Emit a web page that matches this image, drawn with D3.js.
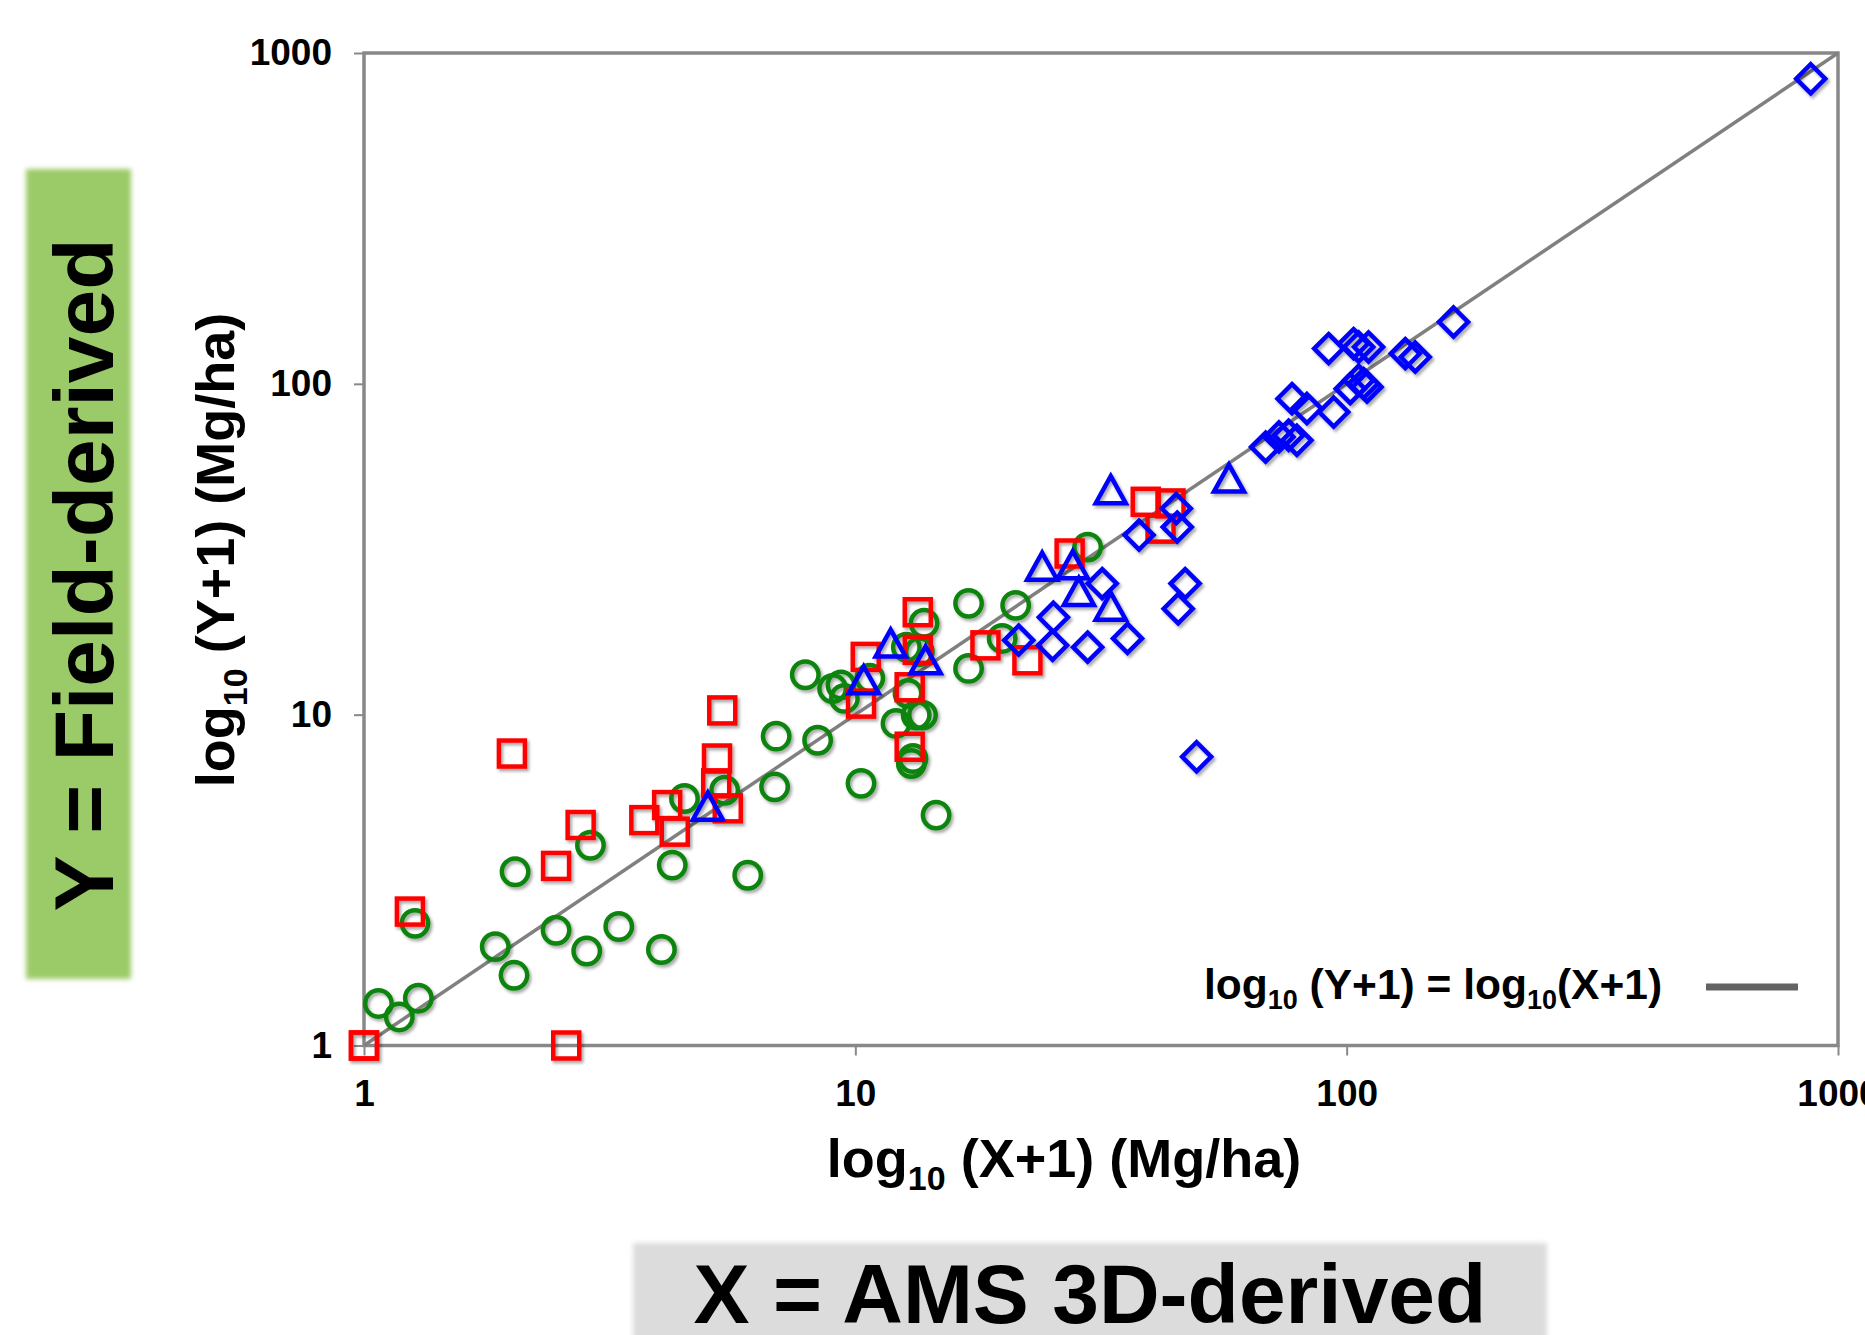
<!DOCTYPE html>
<html><head><meta charset="utf-8">
<script src="https://cdn.jsdelivr.net/npm/d3@7"></script>
<style>
html,body{margin:0;padding:0;background:#fff;}
svg{display:block;}
text{font-family:"Liberation Sans",Arial,Helvetica,sans-serif;font-weight:bold;fill:#000;}
</style>
</head><body>
<svg id="c" width="1865" height="1335"></svg>
<script>
// ---- data ----
const tickValues = [1, 10, 100, 1000];
const tickLabels = ["1", "10", "100", "1000"];
const oneToOne = [1, 1000];

// green circles [X, Y]
const circlesData = [
  [1.07,1.34],[1.18,1.22],[1.29,1.39],[1.27,2.34],[1.85,1.99],[2.02,1.63],[2.03,3.35],
  [2.46,2.23],[2.84,1.93],[3.30,2.29],[2.89,4.03],[4.03,1.95],[4.24,3.51],[4.49,5.58],
  [6.04,3.27],[5.42,5.91],[6.85,6.05],[6.90,8.61],[8.38,8.37],[7.91,13.2],[8.99,12.0],
  [9.35,12.3],[9.5,11.2],[10.27,6.2],[10.7,12.9],[12.1,9.41],[12.8,11.6],[13.3,9.97],
  [13.7,9.97],[13.0,7.12],[13.1,7.37],[14.6,4.97],[13.8,18.9],[17.0,21.7],[17.0,13.8],
  [21.2,21.4],[19.9,17.0],[12.7,16.0],[29.7,32.1],[13.5,15.5]
];
// red squares [X, Y]
const squaresData = [
  [1,1],[1,1],[1.24,2.54],[2.0,7.63],[2.46,3.49],[2.76,4.64],[2.58,1.0],[3.72,4.80],
  [4.14,5.33],[4.29,4.43],[5.23,7.37],[5.21,6.20],[5.50,5.21],[5.36,10.3],[10.5,14.95],
  [10.27,10.8],[13.4,20.4],[13.4,15.7],[12.9,12.1],[12.9,8.0],[18.4,16.2],[22.4,14.6],
  [27.3,30.7],[39.0,44.0],[43.8,43.5],[41.8,36.5]
];
// blue triangles [X, Y]
const trianglesData = [
  [5.01,5.27],[10.4,12.7],[11.8,16.4],[13.9,14.6],[24.0,28.0],[27.7,28.3],[28.5,23.5],
  [33.1,21.2],[33.1,47.7],[57.6,51.7]
];
// blue diamonds [X, Y]
const diamondsData = [
  [21.5,16.8],[25.3,19.7],[25.2,16.2],[29.7,16.0],[31.8,24.9],[35.8,17.0],[37.8,34.9],
  [45.0,42.0],[45.2,36.9],[46.9,24.9],[45.4,20.9],[49.5,7.46],[68.4,64.4],[72.8,69.1],
  [76.2,69.9],[79.2,67.5],[77.4,90.2],[83.0,84.2],[94.1,82.2],[91.9,127.8],[103.3,132.3],
  [105.8,129.2],[110.8,129.2],[101.7,96.7],[105.8,102.5],[108.3,100.1],[110.0,97.8],
  [131.6,123.4],[137.9,120.5],[165,153.8],[880,836]
];

// ---- layout ----
const svg = d3.select("#c");
const L = 364, R = 1838, T = 53, B = 1045.5;
const x = d3.scaleLog().domain([1, 1000]).range([L, R]);
const y = d3.scaleLog().domain([1, 1000]).range([B, T]);
const font = '"Liberation Sans",Arial,Helvetica,sans-serif';

const defs = svg.append("defs");
const sh = defs.append("filter").attr("id","sh").attr("x","-30%").attr("y","-30%").attr("width","160%").attr("height","160%");
sh.append("feDropShadow").attr("dx",2).attr("dy",2.5).attr("stdDeviation",1.6)
  .attr("flood-color","#000").attr("flood-opacity",0.35);
const bx = defs.append("filter").attr("id","bx").attr("x","-10%").attr("y","-10%").attr("width","120%").attr("height","120%");
bx.append("feGaussianBlur").attr("stdDeviation",2.5);

// side label boxes
svg.append("rect").attr("x",26).attr("y",169).attr("width",105).attr("height",810)
  .attr("fill","#9bcb67").attr("filter","url(#bx)");
svg.append("text").attr("transform","translate(113,575) rotate(-90)")
  .attr("text-anchor","middle").style("font-size","84px").text("Y = Field-derived");

svg.append("rect").attr("x",633).attr("y",1243).attr("width",914).attr("height",110)
  .attr("fill","#dcdcdc").attr("filter","url(#bx)");
svg.append("text").attr("x",1090).attr("y",1323)
  .attr("text-anchor","middle").style("font-size","84px").text("X = AMS 3D-derived");

// axes
const gx = svg.append("g").attr("transform",`translate(0,${B})`)
  .call(d3.axisBottom(x).tickValues(tickValues).tickFormat((d,i)=>tickLabels[i]).tickSize(10).tickPadding(24));
const gy = svg.append("g").attr("transform",`translate(${L},0)`)
  .call(d3.axisLeft(y).tickValues(tickValues).tickFormat((d,i)=>tickLabels[i]).tickSize(10).tickPadding(22));
[gx, gy].forEach(g => {
  g.select(".domain").remove();
  g.selectAll(".tick line").attr("stroke","#888").attr("stroke-width",2);
  g.selectAll(".tick text").style("font-family",font).style("font-weight","bold")
    .style("font-size","37px").attr("fill","#000");
});

// frame
svg.append("rect").attr("x",L).attr("y",T).attr("width",R-L).attr("height",B-T)
  .attr("fill","none").attr("stroke","#888").attr("stroke-width",3.5);

// 1:1 line
svg.append("line").attr("x1",x(oneToOne[0])).attr("y1",y(oneToOne[0]))
  .attr("x2",x(oneToOne[1])).attr("y2",y(oneToOne[1]))
  .attr("stroke","#808080").attr("stroke-width",3.5);

// markers
const mk = svg.append("g").attr("filter","url(#sh)").attr("fill","none").attr("stroke-width",4.5);
mk.selectAll("circle.g").data(circlesData).join("circle")
  .attr("cx",d=>x(d[0])).attr("cy",d=>y(d[1])).attr("r",13.2).attr("stroke","#0b840b");
mk.selectAll("rect.s").data(squaresData).join("rect")
  .attr("x",d=>x(d[0])-13).attr("y",d=>y(d[1])-13).attr("width",26).attr("height",26)
  .attr("stroke","#ff0000");
mk.selectAll("path.t").data(trianglesData).join("path")
  .attr("d",d=>{const cx=x(d[0]), cy=y(d[1]); return `M${cx},${cy-14}L${cx+15},${cy+13}L${cx-15},${cy+13}Z`;})
  .attr("stroke","#0000ff");
mk.selectAll("path.d").data(diamondsData).join("path")
  .attr("d",d=>{const cx=x(d[0]), cy=y(d[1]); return `M${cx},${cy-14.5}L${cx+14.5},${cy}L${cx},${cy+14.5}L${cx-14.5},${cy}Z`;})
  .attr("stroke","#0000ff");

// axis titles
const xt = svg.append("text").attr("x",1064).attr("y",1177).attr("text-anchor","middle").style("font-size","54px");
xt.append("tspan").text("log");
xt.append("tspan").attr("dy",13).style("font-size","34px").text("10");
xt.append("tspan").attr("dy",-13).text(" (X+1) (Mg/ha)");

const yt = svg.append("text").attr("transform","translate(234,550) rotate(-90)").attr("text-anchor","middle").style("font-size","54px");
yt.append("tspan").text("log");
yt.append("tspan").attr("dy",13).style("font-size","34px").text("10");
yt.append("tspan").attr("dy",-13).text(" (Y+1) (Mg/ha)");

// legend
const lt = svg.append("text").attr("x",1204).attr("y",999).style("font-size","42.5px");
lt.append("tspan").text("log");
lt.append("tspan").attr("dy",10).style("font-size","27px").text("10");
lt.append("tspan").attr("dy",-10).text(" (Y+1) = log");
lt.append("tspan").attr("dy",10).style("font-size","27px").text("10");
lt.append("tspan").attr("dy",-10).text("(X+1)");
svg.append("line").attr("x1",1706).attr("x2",1798).attr("y1",987).attr("y2",987)
  .attr("stroke","#636363").attr("stroke-width",7);
</script>
</body></html>
